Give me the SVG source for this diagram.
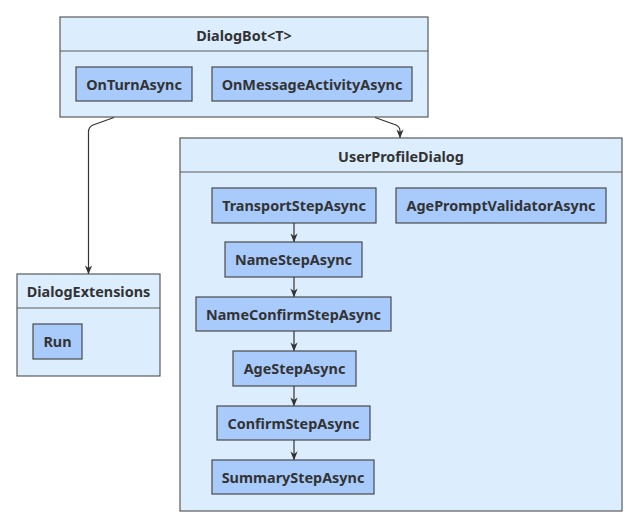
<svg xmlns="http://www.w3.org/2000/svg" width="637" height="526" viewBox="0 0 637 526">
<style>
.outer{fill:#dcedfd;stroke:#5a5a5a;stroke-width:1.2}
.inner{fill:#a9cbfc;stroke:#4a4a4a;stroke-width:1.2}
.div{stroke:#5a5a5a;stroke-width:1.2;fill:none}
text{font-family:"Noto Sans","Open Sans","DejaVu Sans",sans-serif;font-weight:bold;font-size:14.4px;fill:#333;text-anchor:middle;dominant-baseline:central}
.edge{fill:none;stroke:#333;stroke-width:1.2}
</style>
<defs>
<marker id="ah" viewBox="0 0 10 10" refX="9" refY="5" markerWidth="9" markerHeight="9" markerUnits="userSpaceOnUse" orient="auto">
<path d="M0,1 L10,5 L0,9 L3,5 Z" fill="#333"/>
</marker>
</defs>
<rect width="637" height="526" fill="#fff"/>
<g id="DialogBot">
<rect class="outer" x="60" y="17" width="368" height="100"/>
<line class="div" x1="60" y1="51" x2="428" y2="51"/>
<text x="244" y="35">DialogBot&lt;T&gt;</text>
</g>
<g id="OnTurnAsync">
<rect class="inner" x="76" y="67" width="116" height="34"/>
<text x="134" y="84">OnTurnAsync</text>
</g>
<g id="OnMessageActivityAsync">
<rect class="inner" x="212" y="67" width="200" height="34"/>
<text x="312" y="84">OnMessageActivityAsync</text>
</g>
<g id="DialogExtensions">
<rect class="outer" x="17" y="274" width="143" height="102"/>
<line class="div" x1="17" y1="308" x2="160" y2="308"/>
<text x="88.5" y="291">DialogExtensions</text>
</g>
<g id="Run">
<rect class="inner" x="33" y="324" width="49" height="35"/>
<text x="57.5" y="341.5">Run</text>
</g>
<g id="UserProfileDialog">
<rect class="outer" x="180" y="138" width="442" height="373"/>
<line class="div" x1="180" y1="172" x2="622" y2="172"/>
<text x="401" y="156">UserProfileDialog</text>
</g>
<g id="TransportStepAsync">
<rect class="inner" x="212" y="188" width="164" height="35"/>
<text x="294" y="205.5">TransportStepAsync</text>
</g>
<g id="AgePromptValidatorAsync">
<rect class="inner" x="396" y="188" width="210" height="35"/>
<text x="501" y="205.5">AgePromptValidatorAsync</text>
</g>
<g id="NameStepAsync">
<rect class="inner" x="225" y="242" width="137" height="35"/>
<text x="293.5" y="259.5">NameStepAsync</text>
</g>
<g id="NameConfirmStepAsync">
<rect class="inner" x="196" y="297" width="195" height="34"/>
<text x="293.5" y="314">NameConfirmStepAsync</text>
</g>
<g id="AgeStepAsync">
<rect class="inner" x="233" y="351" width="123" height="35"/>
<text x="294.5" y="368.5">AgeStepAsync</text>
</g>
<g id="ConfirmStepAsync">
<rect class="inner" x="217" y="406" width="153" height="34"/>
<text x="293.5" y="423">ConfirmStepAsync</text>
</g>
<g id="SummaryStepAsync">
<rect class="inner" x="212" y="460" width="162" height="34"/>
<text x="293" y="477">SummaryStepAsync</text>
</g>
<g id="connectors">
<path class="edge" d="M114,117.5 L93,125 Q88.5,127 88.5,132 L88.5,273.5" marker-end="url(#ah)"/>
<path class="edge" d="M375,117.5 L396,125 Q400,127 400,131 L400,137.5" marker-end="url(#ah)"/>
<path class="edge" d="M294,223 L294,241.5" marker-end="url(#ah)"/>
<path class="edge" d="M294,277 L294,296.5" marker-end="url(#ah)"/>
<path class="edge" d="M294,331 L294,350.5" marker-end="url(#ah)"/>
<path class="edge" d="M294,386 L294,405.5" marker-end="url(#ah)"/>
<path class="edge" d="M294,440 L294,459.5" marker-end="url(#ah)"/>
</g>
</svg>
